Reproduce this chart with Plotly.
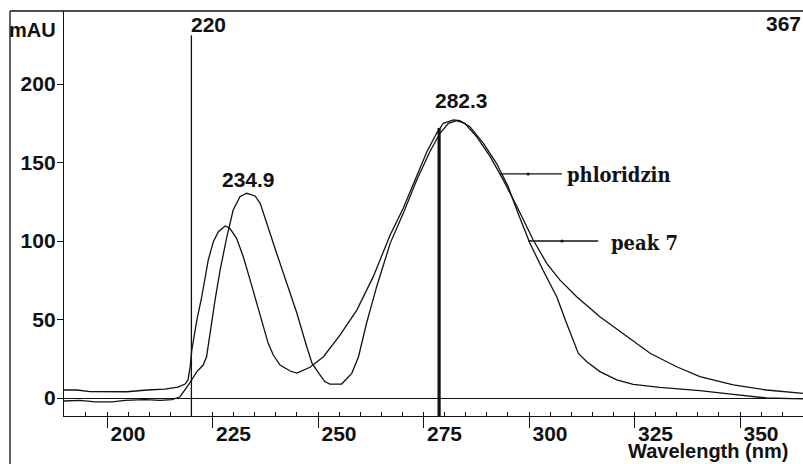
import plotly.graph_objects as go

# ---------------- data ----------------
wl_phloridzin = [189.8, 192.9, 196.0, 200.7, 204.7, 209.5, 213.7, 216.8, 218.5, 219.2,
                 219.7, 220.1, 221.3, 222.4, 223.2, 224.0, 225.2, 226.4, 228.0, 229.1,
                 230.7, 232.3, 233.9, 235.5, 237.0, 238.2, 239.4, 241.0, 243.4, 245.0,
                 248.1, 251.3, 255.2, 259.2, 263.1, 267.1, 270.2, 273.4, 275.8, 278.1,
                 279.7, 282.1, 283.6, 286.0, 289.2, 292.3, 295.0, 297.5, 300.2, 303.3,
                 306.6, 308.9, 311.7, 313.7, 316.8, 320.8, 324.7, 331.0, 340.5, 348.4,
                 356.3, 364.9]
abs_phloridzin = [5.1, 5.1, 4.1, 4.0, 4.0, 5.1, 5.7, 7.0, 8.9, 11.5,
                  19.7, 30.6, 49.7, 63.7, 75.2, 87.9, 99.6, 105.9, 109.6, 108.1,
                  101.7, 90.0, 75.2, 60.3, 45.4, 34.8, 27.4, 21.0, 17.2, 15.9,
                  19.6, 26.3, 40.1, 56.0, 77.3, 103.8, 120.8, 142.0, 156.9, 168.6,
                  175.0, 177.1, 176.6, 172.8, 162.2, 149.5, 135.0, 117.0, 98.7, 81.5,
                  64.3, 47.6, 28.4, 23.1, 16.8, 11.5, 8.7, 6.8, 4.7, 2.3,
                  0.0, -0.5]

wl_peak7 = [189.8, 193.6, 197.2, 201.2, 204.3, 209.0, 212.6, 215.4, 217.3, 219.3,
            221.3, 222.8, 223.6, 224.4, 225.6, 226.8, 228.4, 229.9, 231.5, 233.1,
            235.1, 236.3, 237.8, 240.2, 242.6, 245.0, 247.3, 248.6, 250.5, 251.6,
            252.8, 255.6, 258.0, 259.6, 261.5, 263.9, 267.1, 270.2, 273.4, 276.5,
            278.9, 280.9, 282.9, 284.8, 287.6, 290.8, 293.9, 297.2, 301.0, 304.2,
            307.3, 311.3, 316.8, 323.2, 328.7, 335.0, 340.5, 348.4, 356.3, 364.9]
abs_peak7 = [-1.9, -1.5, -2.5, -2.5, -1.5, -1.0, -1.5, -1.0, 0.8, 8.3,
             16.8, 21.0, 26.3, 41.2, 62.4, 81.5, 102.7, 119.7, 128.2, 130.4,
             128.7, 124.0, 111.3, 92.2, 73.1, 54.0, 33.0, 22.0, 14.6, 10.5,
             8.9, 8.9, 15.7, 26.3, 47.6, 70.9, 98.5, 117.6, 138.9, 156.9,
             168.6, 175.0, 176.6, 175.0, 166.4, 153.7, 138.9, 121.7, 100.6, 85.8,
             75.2, 64.5, 51.8, 39.0, 28.5, 19.9, 13.6, 8.3, 5.1, 2.9]

x_ticks = [200, 225, 250, 275, 300, 325, 350]
x_tick_text = ["200", "225", "250", "275", "300", "325", "350"]
x_minor_step = 5
y_ticks = [0, 50, 100, 150, 200]
y_tick_text = ["0", "50", "100", "150", "200"]

# cursor lines: position (nm), top (mAU), label, label position
cursor_x = [220.0, 278.7]
cursor_top = [231.0, 172.0]
cursor_width = [1.3, 3.2]
peak_labels = ["234.9", "282.3"]
peak_label_x = [233.6, 283.9]
peak_label_y = [138.9, 189.8]

# legend call-outs
legend_names = ["phloridzin", "peak 7"]
legend_line_x0 = [293.1, 299.8]
legend_line_x1 = [307.8, 316.4]
legend_line_y = [142.7, 100.0]
legend_dot_x = [299.8, 307.8]
legend_text_x = [308.6, 319.0]
legend_text_y = [142.0, 98.7]

SANS = "Liberation Sans, Arial, sans-serif"
SERIF = "DejaVu Serif Condensed, DejaVu Serif, serif"
X_RANGE = [189.81, 364.93]
Y_RANGE = [-11.46, 246.5]
INK = "#111111"
FS = 21

fig = go.Figure()
for wl, ab, nm in [(wl_phloridzin, abs_phloridzin, legend_names[0]),
                   (wl_peak7, abs_peak7, legend_names[1])]:
    fig.add_trace(go.Scatter(x=wl, y=ab, mode="lines", name=nm,
                             line=dict(color=INK, width=1.3),
                             showlegend=False, hoverinfo="skip"))

# call-out lines with small dots
for i in range(2):
    fig.add_trace(go.Scatter(x=[legend_line_x0[i], legend_line_x1[i]],
                             y=[legend_line_y[i], legend_line_y[i]],
                             mode="lines", line=dict(color=INK, width=1.3),
                             showlegend=False, hoverinfo="skip"))
    fig.add_trace(go.Scatter(x=[legend_dot_x[i]], y=[legend_line_y[i]],
                             mode="markers", marker=dict(color=INK, size=3),
                             showlegend=False, hoverinfo="skip"))
    fig.add_annotation(x=legend_text_x[i], y=legend_text_y[i], xref="x", yref="y",
                       text=legend_names[i], showarrow=False, xanchor="left",
                       yanchor="middle",
                       font=dict(family=SERIF, size=20, weight="bold", color=INK))

# invisible trace on an overlay axis that carries the minor ticks
fig.add_trace(go.Scatter(x=X_RANGE, y=Y_RANGE, xaxis="x2", yaxis="y",
                         mode="lines", line=dict(width=0), opacity=0,
                         showlegend=False, hoverinfo="skip"))

# cursor lines
for i in range(2):
    fig.add_shape(type="line", xref="x", yref="y", x0=cursor_x[i], x1=cursor_x[i],
                  y0=Y_RANGE[0], y1=cursor_top[i],
                  line=dict(color=INK, width=cursor_width[i]))
    fig.add_annotation(x=peak_label_x[i], y=peak_label_y[i], xref="x", yref="y",
                       text=peak_labels[i], showarrow=False, xanchor="center",
                       yanchor="middle",
                       font=dict(family=SANS, size=FS, weight="bold", color=INK))

fig.add_annotation(x=cursor_x[0], y=238.2, xref="x", yref="y", text="220",
                   showarrow=False, xanchor="left", yanchor="middle", xshift=-2,
                   font=dict(family=SANS, size=FS, weight="bold", color=INK))
fig.add_annotation(x=1.0, y=0.97, xref="paper", yref="paper", text="367",
                   showarrow=False, xanchor="right", yanchor="middle",
                   font=dict(family=SANS, size=FS, weight="bold", color=INK))
fig.add_annotation(x=-0.042, y=0.953, xref="paper", yref="paper", text="mAU",
                   showarrow=False, xanchor="center", yanchor="middle",
                   font=dict(family=SANS, size=20, weight="bold", color=INK))
fig.add_annotation(x=0.762, y=-0.087, xref="paper", yref="paper",
                   text="Wavelength (nm)", showarrow=False, xanchor="left",
                   yanchor="middle", borderpad=0,
                   font=dict(family=SANS, size=20, weight="bold", color=INK))

# outer frame
fig.add_shape(type="line", xref="paper", yref="paper", x0=-0.0731, x1=1.0, y0=1.0, y1=1.0,
              line=dict(color=INK, width=1.6))
fig.add_shape(type="line", xref="paper", yref="paper", x0=-0.0731, x1=-0.0731,
              y0=1.0, y1=-0.13, line=dict(color=INK, width=1.3))

tickfont = dict(family=SANS, size=FS, weight="bold", color=INK)
fig.update_layout(
    width=803, height=464,
    margin=dict(l=64, r=0, t=11, b=48),
    paper_bgcolor="white", plot_bgcolor="white",
    xaxis=dict(range=X_RANGE, showline=True, linecolor=INK, linewidth=1.3,
               showgrid=False, zeroline=False,
               tickmode="array", tickvals=x_ticks, ticktext=x_tick_text,
               ticks="outside", ticklen=11, tickwidth=1.4, tickcolor=INK,
               ticklabelshift=21, ticklabelstandoff=-12, tickfont=tickfont),
    xaxis2=dict(range=X_RANGE, overlaying="x", side="bottom", showline=False,
                showgrid=False, zeroline=False, showticklabels=False,
                tickmode="linear", tick0=0, dtick=x_minor_step,
                ticks="inside", ticklen=4, tickwidth=1.2, tickcolor=INK),
    yaxis=dict(range=Y_RANGE, showline=True, linecolor=INK, linewidth=1.3,
               showgrid=False, zeroline=True, zerolinecolor=INK,
               zerolinewidth=1.2,
               tickmode="array", tickvals=y_ticks, ticktext=y_tick_text,
               ticks="outside", ticklen=6, tickwidth=1.4, tickcolor=INK,
               ticklabelstandoff=-3, tickfont=tickfont),
)

fig.write_html("out.html")
